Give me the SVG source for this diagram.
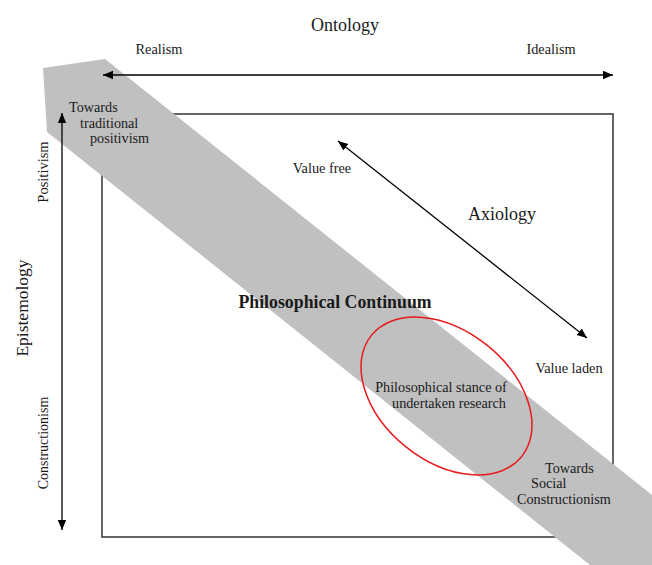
<svg xmlns="http://www.w3.org/2000/svg" width="652" height="565" viewBox="0 0 652 565">
  <style>
    .t { font-family: "Liberation Serif", "Times New Roman", serif; fill: #1a1a1a; }
    .s12 { font-size: 14.3px; }
    .s13 { font-size: 14.2px; }
    .s18 { font-size: 18px; }
    .axis { stroke: #000; stroke-width: 1.3; fill: none; marker-start: url(#head); marker-end: url(#head); }
  </style>
  <defs>
    <marker id="head" viewBox="0 0 10 10" refX="10" refY="5" markerWidth="10" markerHeight="10" markerUnits="userSpaceOnUse" orient="auto-start-reverse">
      <path d="M0,0.8 L10,5 L0,9.2 Z" fill="#000"/>
    </marker>
  </defs>

  <rect width="652" height="565" fill="#fff"/>

  <!-- frame of the research space -->
  <rect id="frame" x="102" y="114" width="511" height="423" fill="none" stroke="#333" stroke-width="1.5"/>

  <!-- philosophical continuum band -->
  <polygon id="continuum-band" points="43,68 105,59 652,495 652,565 590,565 47,132" fill="#c0c0c0"/>

  <!-- axes -->
  <g id="connectors">
    <line class="axis" x1="103" y1="75" x2="613" y2="75"/>
    <line class="axis" x1="62" y1="113" x2="62" y2="530"/>
    <line class="axis" x1="338" y1="141" x2="587" y2="338"/>
  </g>

  <g id="ontology">
    <text class="t s18" x="345" y="31" text-anchor="middle">Ontology</text>
    <text class="t s12" x="159" y="54" text-anchor="middle">Realism</text>
    <text class="t s12" x="551" y="54" text-anchor="middle">Idealism</text>
  </g>

  <g id="epistemology">
    <text class="t" font-size="17.5" transform="translate(28,308) rotate(-90)" text-anchor="middle">Epistemology</text>
    <text class="t" font-size="14.5" transform="translate(48,172) rotate(-90)" text-anchor="middle">Positivism</text>
    <text class="t" font-size="14" transform="translate(48,443) rotate(-90)" text-anchor="middle">Constructionism</text>
  </g>

  <g id="axiology">
    <text class="t s18" x="502" y="220" text-anchor="middle">Axiology</text>
    <text class="t s12" x="322" y="173" text-anchor="middle">Value free</text>
    <text class="t s12" x="569" y="373" text-anchor="middle">Value laden</text>
  </g>

  <g id="continuum-labels">
    <text class="t" x="335" y="308" text-anchor="middle" font-size="17.8" font-weight="bold">Philosophical Continuum</text>
    <text class="t s13" x="69" y="112">Towards</text>
    <text class="t s13" x="80" y="128">traditional</text>
    <text class="t s13" x="90" y="143">positivism</text>
    <text class="t s13" x="545" y="473">Towards</text>
    <text class="t s13" x="531" y="488">Social</text>
    <text class="t s13" x="517" y="504">Constructionism</text>
  </g>

  <g id="research-stance">
    <ellipse cx="446.5" cy="396" rx="96.5" ry="65" transform="rotate(38.9 446.5 396)" fill="none" stroke="#e8191b" stroke-width="1.5"/>
    <text class="t s13" x="441" y="392" text-anchor="middle">Philosophical stance of</text>
    <text class="t s13" x="449" y="408" text-anchor="middle">undertaken research</text>
  </g>
</svg>
